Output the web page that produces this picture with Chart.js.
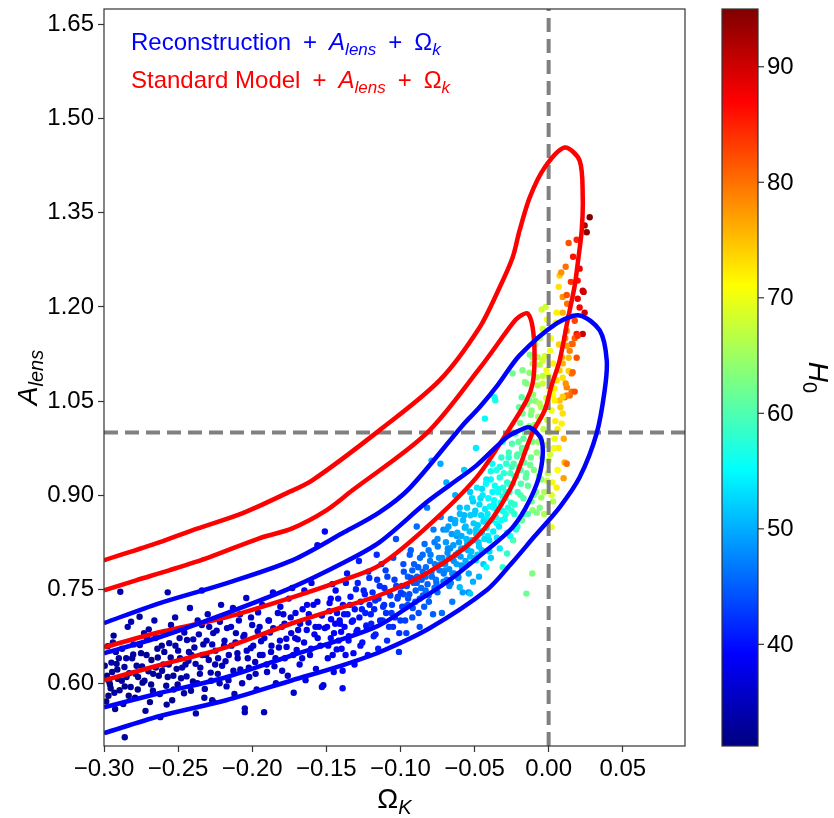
<!DOCTYPE html>
<html>
<head>
<meta charset="utf-8">
<script src="https://cdn.jsdelivr.net/npm/chart.js@4.4.0/dist/chart.umd.min.js"></script>
<style>
  html, body { margin: 0; padding: 0; background: #fff; }
  #wrap { width: 834px; height: 818px; }
</style>
</head>
<body>
<div id="wrap"><canvas id="chart" width="834" height="818" style="width:834px;height:818px"></canvas></div>
<script>
/* Omega_K vs A_lens, points coloured by H0 */
const xTicks = [-0.30, -0.25, -0.20, -0.15, -0.10, -0.05, 0.00, 0.05];
const yTicks = [0.60, 0.75, 0.90, 1.05, 1.20, 1.35, 1.50, 1.65];
const cbTicks = [40, 50, 60, 70, 80, 90];
const xRange = [-0.30, 0.092];
const yRange = [0.50, 1.675];
const cbRange = [31.2, 95.0];

// sample points: Omega_K, A_lens, H0
const ptX = [
  -0.298,-0.296,-0.295,-0.293,-0.292,-0.291,-0.289,-0.288,-0.287,-0.286,
  -0.285,-0.284,-0.283,-0.282,-0.280,-0.279,-0.278,-0.276,-0.275,-0.274,
  -0.272,-0.271,-0.270,-0.268,-0.267,-0.266,-0.264,-0.263,-0.262,-0.260,
  -0.259,-0.258,-0.256,-0.255,-0.254,-0.252,-0.251,-0.250,-0.248,-0.247,
  -0.246,-0.244,-0.243,-0.242,-0.240,-0.239,-0.238,-0.236,-0.235,-0.234,
  -0.232,-0.231,-0.230,-0.228,-0.227,-0.226,-0.224,-0.223,-0.222,-0.221,
  -0.297,-0.294,-0.290,-0.286,-0.281,-0.277,-0.273,-0.269,-0.265,-0.261,
  -0.257,-0.253,-0.249,-0.245,-0.241,-0.237,-0.233,-0.229,-0.225,-0.219,
  -0.211,-0.203,-0.195,-0.187,-0.179,-0.171,-0.163,-0.155,-0.147,-0.141,
  -0.257,-0.234,-0.218,-0.217,-0.216,-0.214,-0.213,-0.212,-0.210,-0.209,
  -0.208,-0.206,-0.205,-0.204,-0.202,-0.201,-0.200,-0.198,-0.197,-0.196,
  -0.194,-0.193,-0.192,-0.190,-0.189,-0.188,-0.186,-0.185,-0.184,-0.182,
  -0.181,-0.180,-0.178,-0.177,-0.176,-0.174,-0.173,-0.172,-0.170,-0.169,
  -0.168,-0.166,-0.165,-0.164,-0.162,-0.161,-0.160,-0.158,-0.157,-0.156,
  -0.154,-0.153,-0.152,-0.151,-0.151,-0.156,-0.153,-0.139,-0.227,-0.205,
  -0.149,-0.148,-0.147,-0.146,-0.145,-0.144,-0.143,-0.142,-0.140,-0.139,
  -0.138,-0.137,-0.136,-0.135,-0.134,-0.132,-0.131,-0.130,-0.129,-0.128,
  -0.127,-0.126,-0.124,-0.123,-0.122,-0.121,-0.120,-0.118,-0.117,-0.116,
  -0.115,-0.114,-0.112,-0.111,-0.110,-0.109,-0.108,-0.106,-0.105,-0.104,
  -0.103,-0.102,-0.101,
  -0.100,-0.099,-0.098,-0.097,-0.096,-0.095,-0.094,-0.093,-0.092,-0.091,
  -0.090,-0.089,-0.088,-0.087,-0.086,-0.085,-0.084,-0.083,-0.082,-0.081,
  -0.080,-0.079,-0.078,-0.077,-0.076,-0.075,-0.074,-0.073,-0.072,-0.071,
  -0.070,-0.069,-0.068,-0.067,-0.066,-0.065,-0.064,-0.063,-0.062,-0.061,
  -0.098,-0.095,-0.092,-0.089,-0.087,-0.085,-0.083,-0.081,-0.079,-0.077,
  -0.075,-0.073,-0.071,-0.069,-0.067,-0.065,-0.063,-0.061,-0.059,-0.057,
  -0.055,-0.053,-0.051,-0.049,-0.047,-0.045,-0.043,-0.041,-0.039,-0.037,
  -0.035,-0.033,-0.031,-0.029,-0.027,-0.025,-0.023,-0.021,-0.019,-0.017,
  -0.060,-0.059,-0.058,-0.057,-0.056,-0.055,-0.054,-0.053,-0.052,-0.051,
  -0.050,-0.049,-0.048,-0.047,-0.046,-0.045,-0.044,-0.043,-0.042,-0.041,
  -0.040,-0.039,-0.038,-0.037,-0.036,-0.035,-0.034,-0.033,-0.032,-0.031,
  -0.005,-0.011,-0.018,-0.001,-0.024,-0.028,-0.031,-0.042,-0.053,-0.060,
  -0.049,
  -0.029,-0.028,-0.027,-0.026,-0.025,-0.024,-0.023,-0.022,-0.021,-0.020,
  -0.019,-0.018,-0.017,-0.016,-0.015,-0.015,-0.014,-0.013,-0.012,-0.011,
  -0.011,-0.010,
  -0.009,-0.008,-0.007,-0.006,-0.005,-0.004,-0.003,-0.002,-0.001,0.000,
  0.001,0.002,0.003,0.004,0.005,0.003,-0.006,0.006,
  0.0095,0.0088,0.0108,0.0122,0.0101,0.0054,0.0020,0.0277,0.0243,0.0257,
  0.0135,0.0189,0.0115,0.0074,0.0068,0.0095,0.0122,0.0209,0.0196,0.0236,
  0.0196,0.0209,0.0243,0.0230,0.0189,0.0176,0.0054,-0.0047,0.0095,0.0122,
  0.0162,0.0142,0.0189,0.0095,0.0155,0.0074,0.0054,0.0122,0.0108,0.0142,
  0.0074,-0.0128,-0.0074,-0.0040,-0.0014,-0.0108,-0.0081,-0.0149,-0.0182,-0.0128,
  -0.0243,-0.0176,-0.0040,0.0007,0.0041,-0.0061,-0.0365,-0.0115,
  0.0230,0.0176,0.0196,0.0155,0.0122,0.0135,0.0135,0.0162,0.0095,0.0115,
  0.0155,0.0176,0.0122,0.0095
];
const ptY = [
  0.612,0.598,0.633,0.585,0.650,0.622,0.746,0.604,0.567,0.514,
  0.640,0.690,0.616,0.594,0.662,0.577,0.628,0.706,0.648,0.601,
  0.556,0.672,0.619,0.637,0.588,0.700,0.655,0.612,0.546,0.630,
  0.682,0.596,0.664,0.641,0.573,0.705,0.623,0.652,0.608,0.688,
  0.584,0.669,0.636,0.720,0.603,0.657,0.552,0.678,0.625,0.693,
  0.591,0.645,0.710,0.617,0.662,0.570,0.684,0.640,0.600,0.725,
  0.580,0.665,0.640,0.595,0.640,0.610,0.680,0.570,0.625,0.660,
  0.610,0.590,0.672,0.630,0.645,0.600,0.662,0.690,0.630,0.660,
  0.680,0.640,0.690,0.660,0.710,0.672,0.725,0.690,0.735,0.700,
  0.745,0.748,0.635,0.688,0.605,0.660,0.720,0.583,0.648,0.700,
  0.622,0.674,0.554,0.736,0.610,0.656,0.693,0.634,0.590,0.713,
  0.667,0.645,0.554,0.618,0.700,0.681,0.745,0.627,0.600,0.657,
  0.722,0.690,0.640,0.671,0.612,0.705,0.752,0.585,0.653,0.685,
  0.630,0.718,0.665,0.605,0.697,0.645,0.760,0.678,0.623,0.730,
  0.660,0.708,0.597,0.688,0.842,0.820,0.594,0.592,0.573,0.560,
  0.640,0.715,0.672,0.758,0.618,0.695,0.654,0.735,0.682,0.620,
  0.710,0.645,0.775,0.668,0.725,0.700,0.630,0.750,0.685,0.795,
  0.660,0.718,0.742,0.692,0.645,0.768,0.710,0.675,0.732,0.805,
  0.655,0.755,0.700,0.725,0.780,0.668,0.745,0.712,0.690,0.765,
  0.830,0.735,0.650,
  0.700,0.755,0.790,0.722,0.680,0.770,0.742,0.812,0.705,0.760,
  0.730,0.850,0.785,0.690,0.752,0.805,0.722,0.770,0.880,0.740,
  0.795,0.955,0.710,0.825,0.765,0.745,0.800,0.950,0.712,0.845,
  0.780,0.920,0.815,0.755,0.862,0.730,0.795,0.900,0.835,0.770,
  0.742,0.725,0.780,0.760,0.735,0.778,0.748,0.812,0.778,0.752,
  0.830,0.790,0.762,0.845,0.800,0.775,0.860,0.808,0.788,0.868,
  0.822,0.802,0.890,0.845,0.818,0.910,0.862,0.835,0.925,0.880,
  0.855,0.945,0.898,0.870,0.918,0.945,0.885,0.965,0.940,0.990,
  0.880,0.815,0.745,0.940,0.850,0.790,0.745,0.905,0.828,0.762,
  0.870,0.975,0.805,0.770,0.895,0.840,0.790,1.022,0.925,0.860,
  0.810,0.800,0.950,0.885,1.051,0.832,0.910,0.815,0.860,0.985,
  0.896,0.876,0.860,0.923,0.828,0.807,0.785,0.785,0.743,0.753,
  0.796,
  0.905,0.840,0.960,0.835,0.875,1.000,0.930,0.845,0.850,1.040,
  0.900,0.975,0.870,1.080,0.743,0.935,0.870,1.010,0.960,0.775,
  1.120,0.900,
  1.050,0.872,0.985,1.150,0.925,1.090,0.870,1.200,1.020,0.955,
  1.130,0.900,1.060,0.990,1.175,0.890,0.880,0.940,
  1.030,1.014,0.952,0.950,0.927,0.912,0.849,1.343,1.330,1.319,
  1.302,1.307,1.264,1.250,1.232,1.216,1.219,1.261,1.242,1.224,
  1.213,1.199,1.191,1.157,1.157,1.178,1.191,1.196,1.191,1.162,
  1.141,1.130,1.119,1.110,1.094,1.099,1.083,1.072,1.056,1.059,
  1.051,1.124,1.120,1.115,1.099,1.110,1.088,1.078,1.056,1.051,
  1.094,1.099,1.078,1.067,1.051,1.046,1.056,1.035,
  1.226,1.150,1.154,1.141,1.138,1.119,1.098,1.096,1.087,1.078,
  1.065,1.065,1.059,1.057
];
const ptH = [
  33,32,34,33,33,32,34,33,32,33,
  34,34,32,33,33,32,34,33,33,32,
  33,34,33,32,33,34,33,33,33,34,
  34,33,34,33,32,34,33,34,33,34,
  33,34,34,35,33,34,34,35,34,35,
  34,34,35,34,35,34,35,35,34,35,
  32,33,33,32,33,33,34,32,33,33,
  33,33,34,34,34,34,34,35,34,35,
  35,35,36,36,37,37,38,38,39,39,
  34,35,35,35,35,35,36,34,35,36,
  35,36,35,36,35,36,36,35,35,36,
  36,36,35,36,37,36,37,36,35,36,
  37,37,36,37,36,37,37,36,37,37,
  37,38,37,37,38,37,38,38,37,38,
  38,38,37,38,39,39,38,39,34,35,
  38,39,39,39,38,39,39,40,39,39,
  40,39,40,40,40,40,39,41,40,41,
  40,41,41,41,40,42,41,41,42,42,
  41,42,42,42,43,42,43,43,42,43,
  44,43,42,
  43,44,44,44,43,45,44,45,44,45,
  45,46,45,44,46,46,45,46,47,46,
  47,50,45,47,47,46,48,50,46,48,
  48,50,48,47,49,47,49,50,49,48,
  44,44,45,45,45,46,46,47,47,46,
  48,48,47,49,48,48,50,50,49,51,
  51,51,52,52,52,53,54,54,55,55,
  55,56,57,57,58,59,58,60,60,61,
  51,50,49,52,51,50,48,52,51,50,
  52,54,52,50,53,53,52,55,54,54,
  53,52,55,55,57,54,56,54,56,57,
  65,64,62,68,60,58,58,55,52,51,
  54,
  57,56,58,56,58,60,59,57,58,61,
  60,61,59,63,62,61,60,63,62,63,
  65,62,
  64,63,65,66,64,67,66,68,68,67,
  70,69,71,70,72,66,63,71,
  73,72,76,80,77,72,70,95,93,94,
  82,85,80,74,73,78,82,88,86,91,
  88,87,90,90,86,83,72,68,76,78,
  80,79,82,76,80,74,73,79,80,81,
  75,63,66,68,70,65,66,63,61,63,
  62,63,68,70,72,66,56,64,
  90,81,84,81,77,75,74,81,73,78,
  80,82,79,74
];

// more samples filling the dense part of the band
const denseX = [
  -0.2995,-0.2985,-0.2975,-0.2965,-0.2955,-0.2945,-0.2935,-0.2925,-0.2915,-0.2905,
  -0.2895,-0.2878,-0.2862,-0.2848,-0.2833,-0.2817,-0.2803,-0.2788,-0.2772,-0.2758,
  -0.2743,-0.2727,-0.2713,-0.2698,-0.2682,-0.2668,-0.2653,-0.2637,-0.2623,-0.2608,
  -0.2593,-0.2577,-0.2563,-0.2548,-0.2532,-0.2518,-0.2503,-0.2487,-0.2473,-0.2458,
  -0.2443,-0.2427,-0.2413,-0.2398,-0.2382,-0.2368,-0.2353,-0.2337,-0.2323,-0.2308,
  -0.2293,-0.2277,-0.2263,-0.2248,-0.2232,-0.2218,-0.2203,-0.2187,-0.2173,-0.2158,
  -0.2143,-0.2127,-0.2113,-0.2098,-0.2082,-0.2068,-0.2053,-0.2037,-0.2023,-0.2008,
  -0.1993,-0.1977,-0.1963,-0.1948,-0.1932,-0.1918,-0.1903,-0.1887,-0.1873,-0.1858,
  -0.1843,-0.1827,-0.1813,-0.1798,-0.1782,-0.1768,-0.1753,-0.1737,-0.1723,-0.1708,
  -0.1693,-0.1677,-0.1663,-0.1648,-0.1632,-0.1618,-0.1603,-0.1587,-0.1573,-0.1558,
  -0.1495,-0.1487,-0.1478,-0.1468,-0.1457,-0.1448,-0.1437,-0.1428,-0.1417,-0.1408,
  -0.1397,-0.1388,-0.1377,-0.1368,-0.1357,-0.1348,-0.1337,-0.1328,-0.1317,-0.1308,
  -0.1297,-0.1288,-0.1277,-0.1268,-0.1257,-0.1248,-0.1237,-0.1228,-0.1217,-0.1208,
  -0.1197,-0.1188,-0.1177,-0.1168,-0.1157,-0.1148,-0.1137,-0.1128,-0.1117,-0.1108,
  -0.1097,-0.1088,-0.1077,-0.1068,-0.1057,-0.1048,-0.1037,-0.1028,-0.1017,-0.1008,
  -0.0997,-0.0988,-0.0977,-0.0968,-0.0957,-0.0948,-0.0937,-0.0928,-0.0917,-0.0908,
  -0.0897,-0.0888,-0.0877,-0.0868,-0.0857,-0.0848,-0.0837,-0.0828,-0.0817,-0.0808,
  -0.0797,-0.0788,-0.0777,-0.0768,-0.0757,-0.0748,-0.0737,-0.0728,-0.0717,-0.0708,
  -0.0698,-0.0693,-0.0687,-0.0682,-0.0676,-0.0671,-0.0665,-0.0660,-0.0654,-0.0649,
  -0.0643,-0.0638,-0.0632,-0.0627,-0.0621,-0.0616,-0.0610,-0.0605,-0.0599,-0.0594,
  -0.0588,-0.0583,-0.0577,-0.0572,-0.0566,-0.0561,-0.0555,-0.0550,-0.0544,-0.0539,
  -0.0533,-0.0528,-0.0522,-0.0517,-0.0511,-0.0506,-0.0500,-0.0495,-0.0489,-0.0484,
  -0.0478,-0.0473,-0.0467,-0.0462,-0.0456,-0.0451,-0.0445,-0.0440,-0.0434,-0.0429,
  -0.0423,-0.0418,-0.0412,-0.0407,-0.0401,-0.0396,-0.0390,-0.0385,-0.0379,-0.0374,
  -0.0368,-0.0363,-0.0357,-0.0352,-0.0346,-0.0341,-0.0335,-0.0330,-0.0324,-0.0319,
  -0.0313,-0.0308,-0.0302,-0.0297,-0.0291,-0.0286,-0.0280,-0.0275,-0.0269,-0.0264,
  -0.0258,-0.0253,-0.0247,-0.0242,-0.0236,-0.0231,-0.0225,-0.0220,-0.0214,-0.0209,
  -0.0203,-0.0198,-0.0192,-0.0187,-0.0181,-0.0176,-0.0170,-0.0165,-0.0159,-0.0154,
  -0.0150,-0.0145,-0.0140,-0.0135,-0.0130,-0.0125,-0.0120,-0.0115,-0.0110,-0.0105,
  -0.0100,-0.0095,-0.0090,-0.0085,-0.0080,-0.0075,-0.0070,-0.0065,-0.0060,-0.0055,
  -0.0050,-0.0045,-0.0040,-0.0035,-0.0030,-0.0025,-0.0020,-0.0015,-0.0010,-0.0005,
  0.0000,0.0005,0.0010,0.0015,0.0020,0.0025,0.0030,0.0035,0.0040,0.0045,
  0.0060,0.0068,0.0080,0.0090,0.0102,0.0112,0.0125,0.0140,0.0150,0.0165,
  0.0070,0.0085
];
const denseY = [
  0.628,0.571,0.659,0.603,0.592,0.618,0.676,0.559,0.631,0.607,
  0.589,0.655,0.626,0.610,0.580,0.698,0.646,0.615,0.590,0.661,
  0.627,0.604,0.645,0.686,0.598,0.615,0.672,0.641,0.583,0.620,
  0.650,0.566,0.630,0.693,0.612,0.660,0.598,0.640,0.625,0.681,
  0.611,0.650,0.588,0.670,0.631,0.700,0.615,0.645,0.577,0.668,
  0.637,0.604,0.680,0.652,0.615,0.698,0.628,0.668,0.595,0.645,
  0.690,0.620,0.665,0.640,0.710,0.600,0.677,0.652,0.625,0.705,
  0.660,0.615,0.683,0.645,0.725,0.672,0.630,0.700,0.650,0.688,
  0.640,0.712,0.668,0.620,0.695,0.658,0.735,0.680,0.645,0.712,
  0.670,0.695,0.640,0.748,0.685,0.710,0.655,0.725,0.690,0.672,
  0.690,0.660,0.728,0.702,0.645,0.680,0.748,0.712,0.668,0.695,
  0.655,0.725,0.690,0.760,0.710,0.675,0.738,0.698,0.648,0.718,
  0.682,0.760,0.705,0.730,0.665,0.748,0.712,0.690,0.778,0.725,
  0.695,0.745,0.718,0.678,0.765,0.735,0.700,0.790,0.722,0.752,
  0.712,0.770,0.690,0.740,0.725,0.800,0.705,0.755,0.738,0.680,
  0.745,0.722,0.778,0.700,0.755,0.735,0.805,0.768,0.720,0.790,
  0.748,0.770,0.712,0.800,0.765,0.740,0.822,0.785,0.758,0.730,
  0.805,0.770,0.845,0.790,0.760,0.818,0.780,0.865,0.800,0.775,
  0.790,0.825,0.765,0.808,0.850,0.782,0.815,0.760,0.838,0.798,
  0.820,0.775,0.855,0.805,0.790,0.840,0.768,0.825,0.870,0.802,
  0.835,0.785,0.860,0.815,0.848,0.795,0.830,0.880,0.812,0.775,
  0.842,0.868,0.810,0.895,0.828,0.855,0.800,0.875,0.838,0.912,
  0.852,0.825,0.885,0.842,0.868,0.812,0.900,0.858,0.830,0.878,
  0.918,0.848,0.870,0.895,0.828,0.882,0.938,0.860,0.905,0.842,
  0.892,0.915,0.865,0.940,0.878,0.905,0.850,0.928,0.888,0.960,
  0.875,0.912,0.935,0.862,0.895,0.950,0.920,0.880,0.968,0.905,
  0.935,0.888,0.982,0.918,0.950,0.870,0.998,0.930,0.962,0.905,
  0.985,0.945,1.015,0.918,0.968,1.030,0.895,0.952,1.000,0.928,
  0.975,1.045,0.915,1.002,1.095,0.948,1.028,0.890,0.985,1.060,
  0.940,1.012,1.140,0.905,0.968,1.075,1.025,0.930,1.108,0.992,
  1.040,0.960,1.165,1.005,0.905,1.122,0.980,1.055,1.180,0.935,
  1.090,1.000,0.965,1.150,1.035,0.920,1.110,0.975,1.070,1.018,
  1.005,0.975,1.040,1.120,0.990,1.150,1.205,1.185,1.240,1.280,
  1.140,1.255
];
const denseH = [
  33,32,33,32,32,33,33,32,33,32,
  32,33,33,33,32,34,33,33,32,34,
  33,33,33,34,32,33,34,33,33,33,
  33,33,34,34,33,34,33,34,34,34,
  34,34,33,35,34,35,34,34,34,35,
  34,34,35,35,34,35,35,35,35,35,
  36,35,36,35,36,35,36,36,35,36,
  36,35,36,36,37,36,36,37,36,37,
  36,37,37,36,37,37,38,37,37,38,
  37,38,37,38,38,38,37,38,38,38,
  38,38,39,39,38,39,39,39,39,39,
  39,40,39,40,40,39,40,40,39,40,
  40,41,40,41,40,41,41,40,42,41,
  41,42,41,41,42,42,41,43,42,42,
  42,43,42,43,43,44,42,43,43,42,
  43,43,44,43,44,44,45,44,44,45,
  45,45,44,46,45,45,46,46,45,45,
  47,46,47,47,46,47,47,48,48,47,
  48,49,47,48,49,48,48,47,49,48,
  49,48,50,49,49,50,48,49,51,49,
  50,49,51,50,51,50,51,52,50,50,
  51,52,51,53,51,52,51,52,52,54,
  52,52,53,53,53,52,54,53,53,54,
  55,54,54,55,53,55,56,54,55,54,
  55,56,55,57,55,56,54,57,56,58,
  56,57,58,56,57,58,58,57,59,58,
  59,58,60,59,60,58,61,60,60,59,
  61,60,62,60,61,62,60,61,62,61,
  62,63,61,63,64,62,63,62,63,64,
  63,64,65,63,64,66,65,64,67,65,
  66,65,68,67,66,69,67,68,70,67,
  69,69,68,71,70,70,72,70,72,72,
  72,72,74,76,76,78,80,82,84,86,
  74,78
];

// contour lines, [Omega_K, A_lens]
const blueOuter = [
  [-0.300,0.696],[-0.2628,0.7275],[-0.2176,0.7594],[-0.1730,0.7960],[-0.1392,0.8391],
  [-0.1142,0.8725],[-0.0939,0.9108],[-0.0581,1.011],[-0.0466,1.040],[-0.0345,1.0749],
  [-0.0196,1.1227],[0.0054,1.1737],[0.0209,1.1864],[0.0345,1.1625],[0.0392,1.1147],
  [0.0378,1.0669],[0.0324,0.9984],[0.0209,0.9283],[0.0074,0.8805],[-0.0095,0.8343],
  [-0.025,0.7913],[-0.0419,0.7482],[-0.0804,0.6877],[-0.1142,0.6495],[-0.1392,0.6287],
  [-0.1730,0.6048],[-0.2176,0.5730],[-0.2628,0.5475],[-0.300,0.5204]
];
const blueInner = [
  [-0.300,0.6479],[-0.2628,0.6734],[-0.2176,0.7116],[-0.1730,0.7530],[-0.1392,0.7913],
  [-0.1142,0.8247],[-0.0824,0.8885],[-0.0669,0.9156],[-0.0486,0.9474],[-0.0284,0.9920],
  [-0.0196,1.0032],[-0.0128,1.0080],[-0.0047,0.9873],[-0.0054,0.9395],[-0.0128,0.8917],
  [-0.0243,0.8486],[-0.0419,0.8120],[-0.0689,0.7610],[-0.0919,0.7259],[-0.1142,0.6925],
  [-0.1392,0.6702],[-0.1730,0.6447],[-0.2176,0.6096],[-0.2628,0.5841],[-0.300,0.5618]
];
const redOuter = [
  [-0.300,0.7960],[-0.2628,0.8247],[-0.2405,0.8439],[-0.2068,0.8709],[-0.1770,0.9028],
  [-0.1595,0.9235],[-0.1142,1.0032],[-0.0736,1.0829],[-0.0466,1.1673],[-0.0331,1.2310],
  [-0.0243,1.2788],[-0.0196,1.3219],[-0.0128,1.3744],[-0.0027,1.4222],[0.0108,1.4541],
  [0.0209,1.4334],[0.0230,1.3744],[0.0223,1.3219],[0.0196,1.2693],[0.0176,1.2342],
  [0.0128,1.1785],[0.0074,1.1147],[0.0020,1.0749],[-0.0027,1.0351],[-0.0108,1.0],
  [-0.0264,0.9076],[-0.0486,0.8327],[-0.0824,0.7753],[-0.1142,0.7403],[-0.1392,0.7212],
  [-0.1730,0.6957],[-0.2176,0.6574],[-0.2628,0.6287],[-0.300,0.6048]
];
const redInner = [
  [-0.300,0.7482],[-0.2784,0.7642],[-0.2561,0.7801],[-0.2291,0.8008],[-0.1953,0.8311],
  [-0.1730,0.8470],[-0.1500,0.8757],[-0.1324,0.9076],[-0.0824,0.9984],[-0.0466,1.1020],
  [-0.0243,1.1737],[-0.0196,1.1848],[-0.0142,1.1896],[-0.0108,1.1673],[-0.0095,1.1195],
  [-0.0108,1.0781],[-0.0149,1.0510],[-0.0284,0.9984],[-0.0486,0.9283],[-0.0824,0.8486],
  [-0.1142,0.7881],[-0.1392,0.7642],[-0.1730,0.7371],[-0.2176,0.7052],[-0.2628,0.6813],
  [-0.300,0.6574]
];

const FONT = "'Liberation Sans', Arial, sans-serif";

function jet(t) {
  const c = v => Math.round(255 * Math.max(0, Math.min(1, v)));
  return `rgb(${c(1.5 - Math.abs(4 * t - 3))},${c(1.5 - Math.abs(4 * t - 2))},${c(1.5 - Math.abs(4 * t - 1))})`;
}
function h0Color(h) { return jet((h - cbRange[0]) / (cbRange[1] - cbRange[0])); }

function fmtTick(v) {
  return (v < -1e-9 ? '\u2212' : '') + Math.abs(v).toFixed(2);
}

const pointData = [];
const pointColors = [];
function addPoints(xs, ys, hs) {
  const n = Math.min(xs.length, ys.length, hs.length);
  for (let i = 0; i < n; i++) {
    pointData.push({ x: xs[i], y: ys[i] });
    pointColors.push(h0Color(hs[i]));
  }
}
addPoints(ptX, ptY, ptH);
addPoints(denseX, denseY, denseH);

const toXY = arr => arr.map(p => ({ x: p[0], y: p[1] }));

function contour(arr, color) {
  return { data: toXY(arr), showLine: true, borderColor: color, borderWidth: 4.5,
    pointRadius: 0, tension: 0.3, fill: false, clip: 0, order: 1 };
}
function refLine(data) {
  return { data, showLine: true, borderColor: '#808080', borderWidth: 4,
    borderDash: [14, 7], pointRadius: 0, fill: false, clip: 0, order: 2 };
}

// draws text made of parts with different fonts / offsets
function drawRich(ctx, x, y, parts, color, align) {
  let w = 0;
  parts.forEach(p => { ctx.font = p.f; w += ctx.measureText(p.t).width; });
  let cx = align === 'center' ? x - w / 2 : x;
  ctx.fillStyle = color;
  ctx.textBaseline = 'alphabetic';
  ctx.textAlign = 'left';
  parts.forEach(p => {
    ctx.font = p.f;
    ctx.fillText(p.t, cx, y + (p.dy || 0));
    cx += ctx.measureText(p.t).width;
  });
}

const R24 = `24px ${FONT}`, I24 = `italic 24px ${FONT}`, I17 = `italic 17px ${FONT}`;
const R28 = `28px ${FONT}`, I28 = `italic 28px ${FONT}`, I20 = `italic 20px ${FONT}`, R20 = `20px ${FONT}`;
const SP = '\u2002+\u2002';

const decorPlugin = {
  id: 'decor',
  afterDatasetsDraw(chart) {
    const { ctx, chartArea: a } = chart;
    ctx.save();
    ctx.strokeStyle = '#333';
    ctx.lineWidth = 1.2;
    ctx.strokeRect(a.left, a.top, a.right - a.left, a.bottom - a.top);

    // legend text
    drawRich(ctx, 131, 50, [
      { t: 'Reconstruction', f: R24 }, { t: SP, f: R24 }, { t: 'A', f: I24 },
      { t: 'lens', f: I17, dy: 5 }, { t: SP, f: R24 }, { t: '\u03A9', f: R24 },
      { t: 'k', f: I17, dy: 5 }
    ], '#0000ff', 'left');
    drawRich(ctx, 131, 88, [
      { t: 'Standard Model', f: R24 }, { t: SP, f: R24 }, { t: 'A', f: I24 },
      { t: 'lens', f: I17, dy: 5 }, { t: SP, f: R24 }, { t: '\u03A9', f: R24 },
      { t: 'k', f: I17, dy: 5 }
    ], '#ff0000', 'left');

    // axis titles
    drawRich(ctx, (a.left + a.right) / 2, 808, [
      { t: '\u03A9', f: R28 }, { t: 'K', f: I20, dy: 6 }
    ], '#000', 'center');
    ctx.save();
    ctx.translate(37, (a.top + a.bottom) / 2);
    ctx.rotate(-Math.PI / 2);
    drawRich(ctx, 0, 0, [{ t: 'A', f: I28 }, { t: 'lens', f: I20, dy: 6 }], '#000', 'center');
    ctx.restore();

    // colour bar
    const cbL = 722, cbW = 36, top = a.top, bot = a.bottom;
    const g = ctx.createLinearGradient(0, bot, 0, top);
    [0, 0.125, 0.375, 0.625, 0.875, 1].forEach(t => g.addColorStop(t, jet(t)));
    ctx.fillStyle = g;
    ctx.fillRect(cbL, top, cbW, bot - top);
    ctx.strokeStyle = '#333';
    ctx.lineWidth = 1.2;
    ctx.strokeRect(cbL, top, cbW, bot - top);
    ctx.fillStyle = '#000';
    ctx.font = R24;
    ctx.textAlign = 'left';
    ctx.textBaseline = 'middle';
    cbTicks.forEach(v => {
      const y = bot - (v - cbRange[0]) / (cbRange[1] - cbRange[0]) * (bot - top);
      ctx.beginPath();
      ctx.moveTo(cbL + cbW, y);
      ctx.lineTo(cbL + cbW + 6, y);
      ctx.stroke();
      ctx.fillText(String(v), cbL + cbW + 9, y + 1);
    });
    ctx.save();
    ctx.translate(809, (top + bot) / 2);
    ctx.rotate(Math.PI / 2);
    drawRich(ctx, 0, 0, [{ t: 'H', f: I28 }, { t: '0', f: R20, dy: 6 }], '#000', 'center');
    ctx.restore();
    ctx.restore();
  }
};

const tickFont = { family: FONT, size: 24 };
const gridOpts = { drawOnChartArea: false, drawTicks: true, tickLength: 6, tickColor: '#333', tickWidth: 1.2 };
const noPad = s => { s.paddingTop = 0; s.paddingBottom = 0; s.paddingLeft = 0; s.paddingRight = 0; };

new Chart(document.getElementById('chart'), {
  type: 'scatter',
  data: {
    datasets: [
      { data: pointData, pointRadius: 3.2, pointBackgroundColor: pointColors,
        pointBorderWidth: 0, pointHoverRadius: 3.2, showLine: false, clip: 0, order: 3 },
      refLine([{ x: 0, y: yRange[0] }, { x: 0, y: yRange[1] }]),
      refLine([{ x: xRange[0], y: 1.0 }, { x: xRange[1], y: 1.0 }]),
      contour(blueOuter, '#0000ff'),
      contour(blueInner, '#0000ff'),
      contour(redOuter, '#ff0000'),
      contour(redInner, '#ff0000')
    ]
  },
  options: {
    responsive: false,
    animation: false,
    events: [],
    layout: { padding: { left: 0, right: 149, top: 9, bottom: 0 } },
    plugins: { legend: { display: false }, tooltip: { enabled: false } },
    scales: {
      x: {
        type: 'linear', min: xRange[0], max: xRange[1],
        afterBuildTicks: s => { s.ticks = xTicks.map(v => ({ value: v })); },
        afterFit: s => { s.height = 72; noPad(s); },
        ticks: { autoSkip: false, maxRotation: 0, padding: 3, color: '#000', font: tickFont, callback: v => fmtTick(v) },
        grid: gridOpts,
        border: { display: false }
      },
      y: {
        type: 'linear', min: yRange[0], max: yRange[1],
        afterBuildTicks: s => { s.ticks = yTicks.map(v => ({ value: v })); },
        afterFit: s => { s.width = 104; noPad(s); },
        ticks: { autoSkip: false, padding: 4, color: '#000', font: tickFont, callback: v => v.toFixed(2) },
        grid: gridOpts,
        border: { display: false }
      }
    }
  },
  plugins: [decorPlugin]
});
</script>
</body>
</html>
